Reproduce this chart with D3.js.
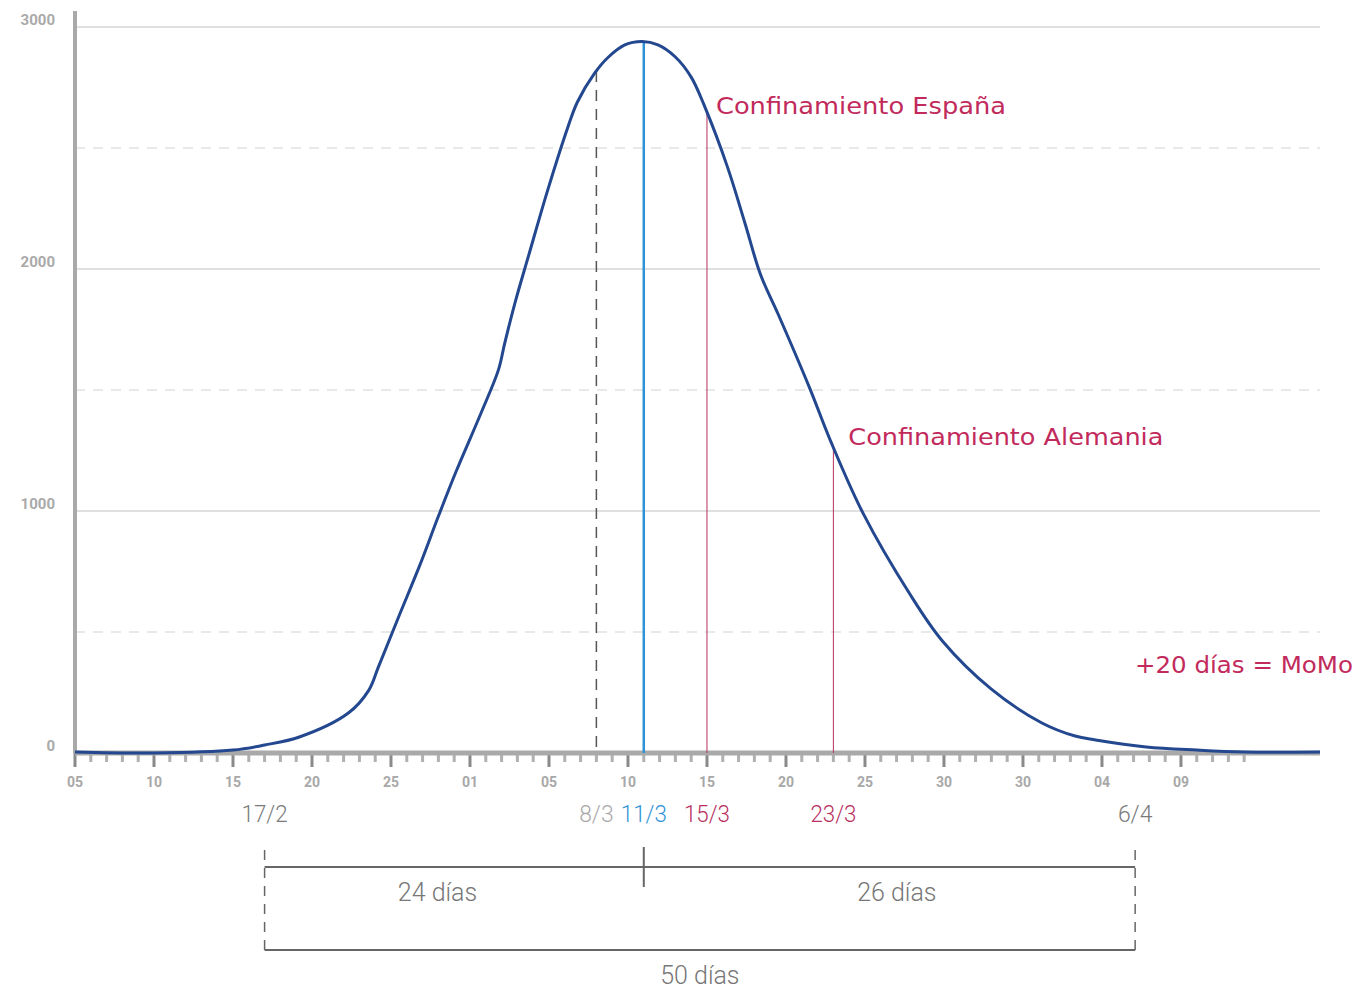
<!DOCTYPE html>
<html><head><meta charset="utf-8">
<script src="https://cdn.jsdelivr.net/npm/d3@7"></script>
<style>
html,body{margin:0;padding:0;background:#fff;}
svg{display:block;font-family:Roboto, "Open Sans", sans-serif;}
</style></head>
<body>
<svg id="chart" width="1358" height="989"></svg>
<script>
// ---- data ----
// day index (0 = 05 Feb) and estimated deaths per day
const dayIndex = [0, 5, 10, 12, 14.2, 17.3, 18.6, 19.2, 20.5, 21.8, 23.0, 24.1, 25.7, 26.8, 27.2, 27.9, 28.7, 29.9, 31.2, 31.8, 32.9, 33.7, 34.8, 35.9, 36.9, 38.0, 39.0, 39.8, 41.3, 42.4, 43.4, 44.5, 46.5, 47.8, 49.9, 52.8, 54.9, 58.0, 61.2, 63.3, 64.6, 67.8, 71, 74, 78.8];
const deaths   = [4, 0, 12, 33, 66, 165, 260, 355, 565, 772, 978, 1160, 1405, 1583, 1694, 1872, 2053, 2322, 2587, 2690, 2810, 2872, 2926, 2940, 2926, 2876, 2793, 2680, 2421, 2190, 1975, 1814, 1508, 1293, 988, 661, 463, 264, 124, 70, 54, 25, 12, 4, 4];
const xTickLabels = ["05","10","15","20","25","01","05","10","15","20","25","30","30","04","09"];
const yTicks = [0, 1000, 2000, 3000];
const yHalfTicks = [500, 1500, 2500];
const markerNames = ["17/2", "8/3", "11/3", "15/3", "23/3", "6/4"];
const markerDays  = [12, 33, 36, 40, 48, 67.1];
const markerColors = ["#7a7a7a", "#aaaaaa", "#2e93d6", "#b7305e", "#b7305e", "#7a7a7a"];
const events = [
  {label: "Confinamiento España", day: 40},
  {label: "Confinamiento Alemania", day: 48}
];
const spanLabels = ["24 días", "26 días", "50 días"];
const noteText = "+20 días = MoMo";

// ---- scales ----
const svg = d3.select("#chart");
const x = d3.scaleLinear().domain([0, 78.8]).range([75, 1320]);
const y = d3.scaleLinear().domain([0, 3000]).range([753, 27]);
const valueAt = d => {
  const i = d3.bisectLeft(dayIndex, d);
  if (dayIndex[i] === d) return deaths[i];
  const t = (d - dayIndex[i-1]) / (dayIndex[i] - dayIndex[i-1]);
  return deaths[i-1] + t * (deaths[i] - deaths[i-1]);
};
const redFont = "'DejaVu Sans', sans-serif";

// grid
svg.selectAll(".grid").data(yTicks.slice(1)).join("line")
  .attr("x1", x(0)).attr("x2", 1320).attr("y1", d => y(d)).attr("y2", d => y(d))
  .attr("stroke", "#d6d6d6").attr("stroke-width", 1.5);
svg.selectAll(".gridh").data(yHalfTicks).join("line")
  .attr("x1", x(0)).attr("x2", 1320).attr("y1", d => y(d)).attr("y2", d => y(d))
  .attr("stroke", "#e2e2e2").attr("stroke-width", 1.5).attr("stroke-dasharray", "10,8");

// y labels
svg.selectAll(".ylab").data(yTicks).join("text")
  .attr("x", 55).attr("y", d => y(d) - 2).attr("text-anchor", "end")
  .attr("font-size", 15).attr("font-weight", "bold").attr("fill", "#aaa")
  .text(d => d);

// y axis line
svg.append("line").attr("x1", x(0)).attr("x2", x(0)).attr("y1", 11).attr("y2", y(0))
  .attr("stroke", "#a9a9a9").attr("stroke-width", 4);

// x ticks
const dayTicks = d3.range(0, 75);
svg.selectAll(".xt").data(dayTicks).join("line")
  .attr("x1", d => x(d)).attr("x2", d => x(d))
  .attr("y1", y(0)).attr("y2", d => d % 5 === 0 ? y(0) + 14 : y(0) + 9)
  .attr("stroke", d => d % 5 === 0 ? "#8a8a8a" : "#b0b0b0").attr("stroke-width", 3);
svg.append("line").attr("x1", x(0)).attr("x2", 1320).attr("y1", y(0)).attr("y2", y(0))
  .attr("stroke", "#a9a9a9").attr("stroke-width", 5);
svg.selectAll(".xl").data(xTickLabels).join("text")
  .attr("x", (d, i) => x(i * 5)).attr("y", 787).attr("text-anchor", "middle")
  .attr("font-size", 14).attr("font-weight", "bold").attr("fill", "#a8a8a8")
  .text(d => d);

// vertical markers
svg.append("line").attr("x1", x(33)).attr("x2", x(33)).attr("y1", y(valueAt(33))).attr("y2", y(0))
  .attr("stroke", "#555").attr("stroke-width", 1.5).attr("stroke-dasharray", "11,8");
svg.append("line").attr("x1", x(36)).attr("x2", x(36)).attr("y1", y(valueAt(36))).attr("y2", y(0))
  .attr("stroke", "#2e93d6").attr("stroke-width", 2.5);
const eventTextLen = [290, 315];
const eventDx = [9, 15];
events.forEach((e, i) => {
  svg.append("line").attr("x1", x(e.day)).attr("x2", x(e.day)).attr("y1", y(valueAt(e.day))).attr("y2", y(0))
    .attr("stroke", "#b7305e").attr("stroke-width", 1);
  svg.append("text").attr("x", x(e.day) + eventDx[i]).attr("y", y(valueAt(e.day)) + (i === 0 ? 1 : -2))
    .attr("font-family", redFont).attr("font-size", 23).attr("fill", "#c22a5c")
    .attr("textLength", eventTextLen[i]).attr("lengthAdjust", "spacingAndGlyphs")
    .text(e.label);
});

// curve
const line = d3.line().x((d, i) => x(dayIndex[i])).y(d => y(d)).curve(d3.curveCatmullRom.alpha(0.5));
svg.append("path").attr("d", line(deaths)).attr("fill", "none")
  .attr("stroke", "#23488f").attr("stroke-width", 3);

// note
svg.append("text").attr("x", 1353).attr("y", 673).attr("text-anchor", "end")
  .attr("font-family", redFont).attr("font-size", 23).attr("fill", "#c22a5c")
  .attr("textLength", 218).attr("lengthAdjust", "spacingAndGlyphs")
  .text(noteText);

// marker labels
svg.selectAll(".ml").data(markerNames).join("text")
  .attr("x", (d, i) => x(markerDays[i])).attr("y", 822).attr("text-anchor", "middle")
  .attr("font-size", 24).attr("font-weight", 300).attr("fill", (d, i) => markerColors[i])
  .attr("textLength", d => d.length * 11.5).attr("lengthAdjust", "spacingAndGlyphs")
  .text(d => d);

// brackets
const bx0 = x(markerDays[0]), bx1 = x(markerDays[5]), bmid = x(markerDays[2]);
[bx0, bx1].forEach(bx => {
  svg.append("line").attr("x1", bx).attr("x2", bx).attr("y1", 850).attr("y2", 952)
    .attr("stroke", "#666").attr("stroke-width", 1.5).attr("stroke-dasharray", "10,8");
});
svg.append("line").attr("x1", bx0).attr("x2", bx1).attr("y1", 867).attr("y2", 867).attr("stroke", "#666").attr("stroke-width", 2);
svg.append("line").attr("x1", bmid).attr("x2", bmid).attr("y1", 847).attr("y2", 887).attr("stroke", "#666").attr("stroke-width", 2);
svg.append("line").attr("x1", bx0).attr("x2", bx1).attr("y1", 950).attr("y2", 950).attr("stroke", "#666").attr("stroke-width", 2);
const spanPos = [[bx0 + (bmid - bx0) * 0.456, 901], [bmid + (bx1 - bmid) * 0.515, 901], [(bx0 + bx1) / 2, 984]];
svg.selectAll(".sl").data(spanLabels).join("text")
  .attr("x", (d, i) => spanPos[i][0]).attr("y", (d, i) => spanPos[i][1]).attr("text-anchor", "middle")
  .attr("font-size", 25).attr("font-weight", 300).attr("fill", "#777")
  .text(d => d);
</script>
</body></html>
